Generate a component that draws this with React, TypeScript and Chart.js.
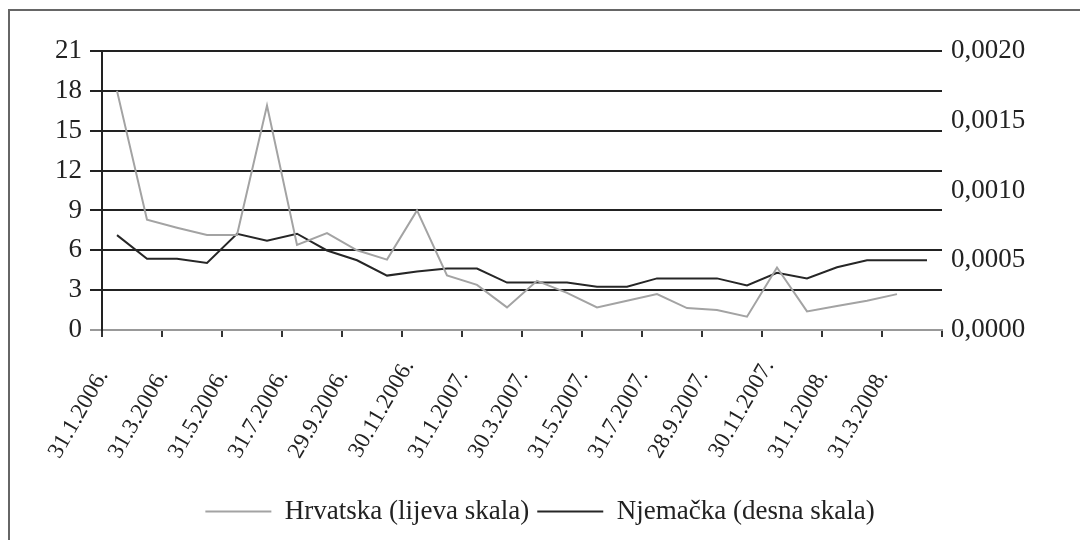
import { useEffect, useRef } from 'react';
import { Chart, registerables } from 'chart.js';
Chart.register(...registerables);

const dates = [
  '31.1.2006.', '28.2.2006.', '31.3.2006.', '28.4.2006.', '31.5.2006.', '30.6.2006.',
  '31.7.2006.', '31.8.2006.', '29.9.2006.', '31.10.2006.', '30.11.2006.', '29.12.2006.',
  '31.1.2007.', '28.2.2007.', '30.3.2007.', '30.4.2007.', '31.5.2007.', '29.6.2007.',
  '31.7.2007.', '31.8.2007.', '28.9.2007.', '31.10.2007.', '30.11.2007.', '31.12.2007.',
  '31.1.2008.', '29.2.2008.', '31.3.2008.', '30.4.2008.',
];

const hrvatska = [
  18.0, 8.3, 7.7, 7.15, 7.15, 16.9, 6.4, 7.3, 6.0, 5.3, 9.0, 4.1, 3.4, 1.7,
  3.7, 2.8, 1.7, 2.2, 2.7, 1.65, 1.5, 1.0, 4.7, 1.4, 1.8, 2.2, 2.7,
];

const njemacka = [
  0.00068, 0.00051, 0.00051, 0.00048, 0.00069, 0.00064, 0.00069, 0.00057,
  0.00050, 0.00039, 0.00042, 0.00044, 0.00044, 0.00034, 0.00034, 0.00034,
  0.00031, 0.00031, 0.00037, 0.00037, 0.00037, 0.00032, 0.00041, 0.00037,
  0.00045, 0.00050, 0.00050, 0.00050,
];

const seriesNames = ['Hrvatska (lijeva skala)', 'Njemačka (desna skala)'];

const FONT = 'Liberation Serif';
const TEXT = '#222';
const GREY = '#a3a3a3';
const DARK = '#262626';

export default function App() {
  const ref = useRef<HTMLCanvasElement | null>(null);

  useEffect(() => {
    if (!ref.current) return;
    const chart = new Chart(ref.current, {
      type: 'line',
      data: {
        labels: dates,
        datasets: [
          {
            label: seriesNames[0],
            data: hrvatska,
            borderColor: GREY,
            backgroundColor: GREY,
            borderWidth: 2,
            pointRadius: 0,
            tension: 0,
            yAxisID: 'y',
          },
          {
            label: seriesNames[1],
            data: njemacka,
            borderColor: DARK,
            backgroundColor: DARK,
            borderWidth: 2,
            pointRadius: 0,
            tension: 0,
            yAxisID: 'y1',
          },
        ],
      },
      options: {
        responsive: false,
        animation: false,
        layout: { padding: { top: 51, left: 0, right: 0, bottom: 5 } },
        plugins: {
          tooltip: { enabled: false },
          legend: {
            position: 'bottom',
            labels: {
              boxWidth: 66,
              boxHeight: 0,
              padding: 8,
              color: TEXT,
              font: { family: FONT, size: 27 },
            },
          },
        },
        scales: {
          x: {
            type: 'category',
            offset: true,
            afterFit: (s: any) => { s.height = 160; },
            grid: {
              offset: true,
              drawOnChartArea: false,
              drawTicks: true,
              tickLength: 7,
              lineWidth: 2,
              color: (ctx: any) =>
                ctx.index === undefined || ctx.index % 2 === 0 ? '#333' : 'rgba(0,0,0,0)',
            },
            border: { display: true, color: '#999', width: 2 },
            ticks: {
              autoSkip: false,
              minRotation: 60,
              maxRotation: 60,
              labelOffset: -8,
              padding: 18,
              color: TEXT,
              font: { family: FONT, size: 23 },
              callback: (_v: any, i: number) => {
                if (i % 2 !== 0) return '';
                const t = dates[i];
                return t.length < 11 ? t + '  ' : t;
              },
            },
          },
          y: {
            position: 'left',
            min: 0,
            max: 21,
            afterFit: (s: any) => { s.width = 102; },
            ticks: {
              stepSize: 3,
              padding: 8,
              color: TEXT,
              font: { family: FONT, size: 27 },
            },
            grid: {
              drawTicks: true,
              tickLength: 12,
              lineWidth: 2,
              color: (ctx: any) => (ctx.tick && ctx.tick.value === 0 ? '#999' : '#222'),
            },
            border: { display: true, color: '#222', width: 2 },
          },
          y1: {
            position: 'right',
            min: 0,
            max: 0.002,
            afterFit: (s: any) => { s.width = 138; },
            ticks: {
              stepSize: 0.0005,
              padding: 1,
              color: TEXT,
              font: { family: FONT, size: 27 },
              callback: (v: any) => Number(v).toFixed(4).replace('.', ','),
            },
            grid: { display: false, drawOnChartArea: false },
            border: { display: false },
          },
        },
      },
    });
    return () => chart.destroy();
  }, []);

  return (
    <div
      style={{
        position: 'fixed',
        left: 0,
        top: 0,
        width: 1080,
        height: 540,
        overflow: 'hidden',
        background: '#fff',
      }}
    >
      <div
        style={{
          position: 'absolute',
          left: 8,
          top: 9,
          width: 1200,
          height: 700,
          borderLeft: '2px solid #666',
          borderTop: '2px solid #666',
        }}
      />
      <canvas
        ref={ref}
        width={1080}
        height={540}
        style={{ position: 'absolute', left: 0, top: 0, width: 1080, height: 540 }}
      />
    </div>
  );
}
